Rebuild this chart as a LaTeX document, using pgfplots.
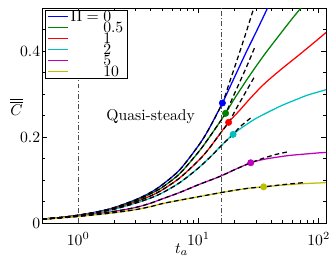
\documentclass[border=0pt]{standalone}
\usepackage{pgfplots}
\pgfplotsset{compat=1.18}
\usetikzlibrary{calc}
\definecolor{mgreen}{rgb}{0,0.5,0}
\definecolor{mcyan}{rgb}{0,0.75,0.75}
\definecolor{mmag}{rgb}{0.75,0,0.75}
\definecolor{myel}{rgb}{0.75,0.75,0}
\begin{document}
\begin{tikzpicture}
\begin{axis}[name=ax, scale only axis, width=181pt, height=137pt,
  xmode=log, xmin=0.5, xmax=115, ymin=0, ymax=0.5,
  xtick={1,10,100},
  ytick={0,0.2,0.4}, minor ytick={0.05,0.1,0.15,0.25,0.3,0.35,0.45},
  major tick length=3pt, minor tick length=1.8pt,
  tick style={black, thin},
  xticklabel style={inner xsep=0pt, yshift=-2.5pt},
  yticklabel style={inner xsep=1pt},
  legend image code/.code={\draw[#1] (0cm,0cm) -- (0.45cm,0cm);},
  legend cell align=left,
  legend style={at={(axis description cs:0.0105,0.9905)}, anchor=north west,
    inner sep=1pt, row sep=1pt, draw=black, thin,
    nodes={inner xsep=1.5pt, inner ysep=0pt, text height=6pt, text depth=0pt}},
]
% solid curves
\addplot[blue, line width=0.8pt, smooth] coordinates {
(0.5,0.009) (0.7,0.0125) (1,0.018) (1.5,0.027) (2,0.036) (3,0.054) (4,0.071) (5,0.089) (7,0.124) (10,0.18) (12,0.215) (15.8,0.279) (20,0.34) (25,0.398) (30,0.443) (37.5,0.50) (45,0.55)};
\addlegendentry{$\Pi = 0$}
\addplot[mgreen, line width=0.8pt, smooth] coordinates {
(0.5,0.009) (0.7,0.0125) (1,0.018) (1.5,0.026) (2,0.035) (3,0.052) (4,0.068) (5,0.083) (7,0.115) (10,0.165) (12,0.195) (14,0.222) (16.8,0.255) (20,0.29) (26.5,0.342) (35,0.39) (45,0.43) (60,0.475) (71,0.50) (80,0.52)};
\addlegendentry{$\hphantom{\Pi ={}}0.5$}
\addplot[red, line width=0.8pt, smooth] coordinates {
(0.5,0.009) (0.7,0.0125) (1,0.0175) (1.5,0.026) (2,0.034) (3,0.049) (4,0.063) (5,0.077) (7,0.105) (10,0.145) (12,0.17) (14,0.195) (17.8,0.234) (22,0.262) (28,0.295) (36,0.326) (50,0.36) (68,0.39) (90,0.418) (115,0.443)};
\addlegendentry{$\hphantom{\Pi ={}}1$}
\addplot[mcyan, line width=0.8pt, smooth] coordinates {
(0.5,0.009) (0.7,0.012) (1,0.017) (1.5,0.025) (2,0.032) (3,0.046) (4,0.058) (5,0.07) (7,0.094) (10,0.128) (13,0.158) (16,0.184) (19.4,0.206) (23,0.222) (30,0.243) (40,0.261) (50,0.274) (65,0.287) (80,0.297) (100,0.305) (115,0.31)};
\addlegendentry{$\hphantom{\Pi ={}}2$}
\addplot[mmag, line width=0.8pt, smooth] coordinates {
(0.5,0.009) (0.7,0.012) (1,0.016) (1.5,0.022) (2,0.027) (3,0.036) (4,0.046) (5,0.056) (7,0.071) (10,0.089) (15,0.108) (20,0.124) (27.2,0.14) (35,0.148) (45,0.153) (57,0.157) (75,0.16) (100,0.163) (115,0.164)};
\addlegendentry{$\hphantom{\Pi ={}}5$}
\addplot[myel, line width=0.8pt, smooth] coordinates {
(0.5,0.0085) (0.7,0.0115) (1,0.015) (1.5,0.02) (2,0.024) (3,0.031) (4,0.038) (5,0.045) (7,0.053) (10,0.061) (15,0.07) (20,0.076) (26.6,0.081) (34.8,0.084) (50,0.088) (70,0.091) (100,0.093) (115,0.094)};
\addlegendentry{$\hphantom{\Pi ={}}10$}
% quasi-steady dashed
\addplot[forget plot, black, line width=0.8pt, dash pattern=on 3pt off 2pt, smooth] coordinates {
(0.5,0.009) (0.7,0.0125) (1,0.018) (1.5,0.027) (2,0.036) (3,0.054) (4,0.071) (5,0.089) (7,0.124) (10,0.18) (12,0.215) (15.8,0.279) (18,0.325) (21.1,0.382) (25,0.445) (29.2,0.505)};
\addplot[forget plot, black, line width=0.8pt, dash pattern=on 3pt off 2pt, smooth] coordinates {
(0.5,0.009) (0.7,0.0125) (1,0.018) (1.5,0.026) (2,0.035) (3,0.052) (4,0.068) (5,0.083) (7,0.115) (10,0.165) (12,0.195) (14,0.222) (16.8,0.255) (20,0.302) (25,0.362) (29.2,0.407)};
\addplot[forget plot, black, line width=0.8pt, dash pattern=on 3pt off 2pt, smooth] coordinates {
(0.5,0.009) (0.7,0.0125) (1,0.0175) (1.5,0.026) (2,0.034) (3,0.049) (4,0.063) (5,0.077) (7,0.105) (10,0.145) (12,0.17) (14,0.195) (17.8,0.234) (21,0.27) (25,0.307) (29.2,0.34)};
\addplot[forget plot, black, line width=0.8pt, dash pattern=on 3pt off 2pt, smooth] coordinates {
(0.5,0.009) (0.7,0.012) (1,0.017) (1.5,0.025) (2,0.032) (3,0.046) (4,0.058) (5,0.07) (7,0.094) (10,0.128) (13,0.158) (16,0.184) (19.4,0.206) (22,0.223) (25,0.236) (28.2,0.248)};
\addplot[forget plot, black, line width=0.8pt, dash pattern=on 3pt off 2pt, smooth] coordinates {
(0.5,0.009) (0.7,0.012) (1,0.016) (1.5,0.022) (2,0.027) (3,0.036) (4,0.046) (5,0.056) (7,0.071) (10,0.089) (15,0.108) (20,0.124) (27.2,0.14) (35,0.151) (45,0.16) (57,0.166)};
\addplot[forget plot, black, line width=0.8pt, dash pattern=on 3pt off 2pt, smooth] coordinates {
(0.5,0.0085) (0.7,0.0115) (1,0.015) (1.5,0.02) (2,0.024) (3,0.031) (4,0.038) (5,0.045) (7,0.053) (10,0.061) (15,0.07) (20,0.076) (26.6,0.081) (34.8,0.084) (50,0.089) (76,0.094)};
% vertical dash-dot lines
\addplot[forget plot, black!70, line width=0.4pt, dash pattern=on 3pt off 1.5pt on 0.6pt off 1.5pt] coordinates {(1,0) (1,0.5)};
\addplot[forget plot, black!70, line width=0.4pt, dash pattern=on 3pt off 1.5pt on 0.6pt off 1.5pt] coordinates {(15.6,0) (15.6,0.5)};
% transition dots
\addplot[forget plot, only marks, mark=*, mark size=2pt, blue] coordinates {(15.8,0.279)};
\addplot[forget plot, only marks, mark=*, mark size=2pt, mgreen] coordinates {(16.8,0.255)};
\addplot[forget plot, only marks, mark=*, mark size=2pt, red] coordinates {(17.8,0.234)};
\addplot[forget plot, only marks, mark=*, mark size=2pt, mcyan] coordinates {(19.4,0.206)};
\addplot[forget plot, only marks, mark=*, mark size=2pt, mmag] coordinates {(27.2,0.14)};
\addplot[forget plot, only marks, mark=*, mark size=2pt, myel] coordinates {(34.8,0.084)};
\node at (axis cs:4,0.248) {Quasi-steady};
\end{axis}
\node at ($(ax.south west)!0.54!(ax.north west)+(-16.3pt,0)$) {$\overline{\overline{C}}$};
\node at ($(ax.south west)!0.5!(ax.south east)+(-1.5pt,-17pt)$) {$t_a$};
\path (ax.south west) ++(-26.8pt,-25.5pt);
\path (ax.north east) ++(3.8pt,5.1pt);
\end{tikzpicture}
\end{document}
